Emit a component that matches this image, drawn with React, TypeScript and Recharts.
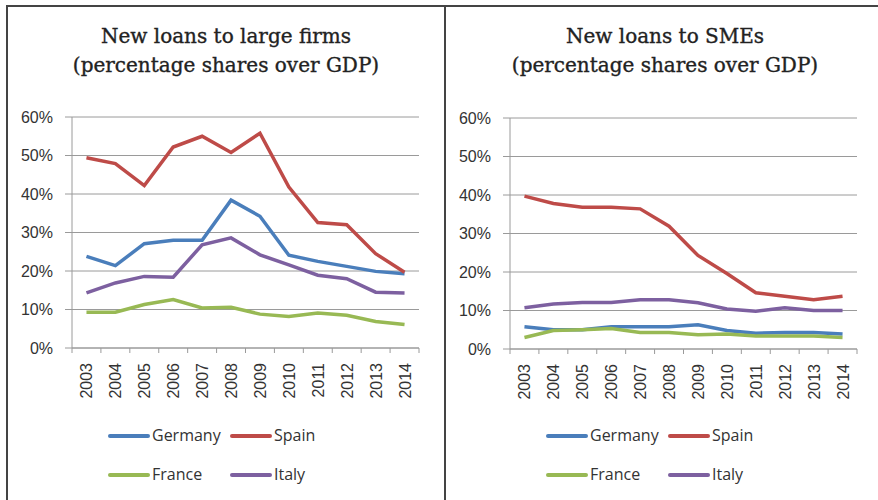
import { CartesianGrid, Line, LineChart, XAxis, YAxis } from 'recharts';

const years = ['2003', '2004', '2005', '2006', '2007', '2008', '2009', '2010', '2011', '2012', '2013', '2014'];
const yTicks = [0, 10, 20, 30, 40, 50, 60];

// New loans to large firms (% of GDP)
const largeGermany = [23.8, 21.4, 27.1, 28.0, 28.0, 38.4, 34.2, 24.1, 22.5, 21.2, 19.9, 19.3];
const largeSpain = [49.4, 47.9, 42.2, 52.2, 55.0, 50.8, 55.8, 41.8, 32.6, 32.0, 24.5, 19.7];
const largeFrance = [9.3, 9.3, 11.3, 12.6, 10.4, 10.6, 8.8, 8.2, 9.1, 8.5, 6.9, 6.1];
const largeItaly = [14.3, 16.9, 18.6, 18.4, 26.8, 28.6, 24.2, 21.6, 18.9, 18.0, 14.5, 14.3];

// New loans to SMEs (% of GDP)
const smeGermany = [5.8, 5.0, 5.0, 5.8, 5.8, 5.8, 6.3, 4.8, 4.1, 4.3, 4.3, 3.9];
const smeSpain = [39.7, 37.8, 36.8, 36.8, 36.4, 31.9, 24.3, 19.6, 14.6, 13.7, 12.8, 13.7];
const smeFrance = [3.0, 4.8, 5.0, 5.3, 4.3, 4.3, 3.7, 3.9, 3.4, 3.4, 3.4, 3.0];
const smeItaly = [10.7, 11.7, 12.1, 12.1, 12.8, 12.8, 12.0, 10.4, 9.8, 10.7, 10.0, 10.0];

const COLORS: Record<string, string> = {
    Germany: '#4A7EBB',
    Spain: '#BE4B48',
    France: '#98B954',
    Italy: '#7D60A0',
};

const CHART_W = 438;
const CHART_H = 500;
const PLOT_W = 347;
const BAND = PLOT_W / years.length;
const AXIS_COLOR = '#9a9a9a';
const TEXT_COLOR = '#333';
const TICK_FONT = '"Liberation Sans", Arial, sans-serif';

const buildRows = (g: number[], s: number[], f: number[], it: number[]) =>
    years.map((year, i) => ({ year, Germany: g[i], Spain: s[i], France: f[i], Italy: it[i] }));

const YearTick = ({ x, y, payload, index }: { x: number; y: number; payload: { value: string }; index: number }) => (
    <g>
        <line x1={x - BAND / 2} x2={x - BAND / 2} y1={y} y2={y + 5} stroke={AXIS_COLOR} />
        {index === years.length - 1 && (
            <line x1={x + BAND / 2} x2={x + BAND / 2} y1={y} y2={y + 5} stroke={AXIS_COLOR} />
        )}
        <text
            x={0}
            y={0}
            transform={`translate(${x + 6}, ${y + 15}) rotate(-90)`}
            textAnchor="end"
            fontSize={16}
            fontFamily={TICK_FONT}
            fill={TEXT_COLOR}
        >
            {payload.value}
        </text>
    </g>
);

const LegendKey = ({ name }: { name: string }) => (
    <div style={{ display: 'flex', alignItems: 'center' }}>
        <div style={{ width: 42, height: 4, borderRadius: 2, background: COLORS[name] }} />
        <span style={{ marginLeft: 2 }}>{name}</span>
    </div>
);

interface PanelProps {
    title: string[];
    rows: ReturnType<typeof buildRows>;
    left: number;
    plotLeft: number;
    top: number;
    titleCenter: number;
}

const Panel = ({ title, rows, left, plotLeft, top, titleCenter }: PanelProps) => (
    <div style={{ position: 'absolute', left, top: 0, width: CHART_W, height: CHART_H }}>
        <div
            style={{
                position: 'absolute',
                left: titleCenter - 200,
                width: 400,
                top: 22,
                textAlign: 'center',
                fontFamily: '"DejaVu Serif", serif',
                fontSize: 20,
                lineHeight: '29px',
                color: '#222',
                WebkitTextStroke: '0.35px #222',
            }}
        >
            {title.map((t) => (
                <div key={t}>{t}</div>
            ))}
        </div>
        <LineChart
            width={CHART_W}
            height={CHART_H}
            data={rows}
            margin={{ top, right: CHART_W - plotLeft - PLOT_W, left: plotLeft - 40, bottom: CHART_H - top - 231 - 60 }}
        >
            <CartesianGrid vertical={false} stroke={AXIS_COLOR} />
            <XAxis
                dataKey="year"
                height={60}
                interval={0}
                padding={{ left: BAND / 2, right: BAND / 2 }}
                tickSize={0}
                tickMargin={0}
                axisLine={{ stroke: AXIS_COLOR }}
                tick={(props: any) => <YearTick {...props} />}
            />
            <YAxis
                width={40}
                domain={[0, 60]}
                ticks={yTicks}
                interval={0}
                tickSize={7}
                tickMargin={12}
                tickFormatter={(v: number) => `${v}%`}
                axisLine={{ stroke: AXIS_COLOR }}
                tickLine={{ stroke: AXIS_COLOR }}
                tick={{ fontSize: 16, fill: TEXT_COLOR, fontFamily: TICK_FONT }}
            />
            {['Germany', 'Spain', 'France', 'Italy'].map((k) => (
                <Line
                    key={k}
                    dataKey={k}
                    stroke={COLORS[k]}
                    strokeWidth={3.5}
                    dot={false}
                    isAnimationActive={false}
                />
            ))}
        </LineChart>
        <div
            style={{
                position: 'absolute',
                left: plotLeft + 36,
                top: 424,
                display: 'grid',
                gridTemplateColumns: '122px 100px',
                rowGap: 16,
                fontFamily: '"Open Sans", sans-serif',
                fontSize: 16,
                lineHeight: '23px',
                color: TEXT_COLOR,
            }}
        >
            <LegendKey name="Germany" />
            <LegendKey name="Spain" />
            <LegendKey name="France" />
            <LegendKey name="Italy" />
        </div>
    </div>
);

export default function App() {
    const lineStyle = { position: 'absolute' as const, background: '#444' };
    return (
        <div style={{ position: 'absolute', left: 0, top: 0, width: 878, height: 500, background: '#fff', overflow: 'hidden' }}>
            <div style={{ ...lineStyle, left: 6, top: 5, width: 872, height: 2 }} />
            <div style={{ ...lineStyle, left: 6, top: 5, width: 2, height: 495 }} />
            <div style={{ ...lineStyle, left: 444, top: 5, width: 2, height: 495 }} />
            <Panel
                title={['New loans to large firms', '(percentage shares over GDP)']}
                rows={buildRows(largeGermany, largeSpain, largeFrance, largeItaly)}
                left={0}
                plotLeft={72}
                top={117}
                titleCenter={226}
            />
            <Panel
                title={['New loans to SMEs', '(percentage shares over GDP)']}
                rows={buildRows(smeGermany, smeSpain, smeFrance, smeItaly)}
                left={440}
                plotLeft={70}
                top={118}
                titleCenter={225}
            />
        </div>
    );
}
